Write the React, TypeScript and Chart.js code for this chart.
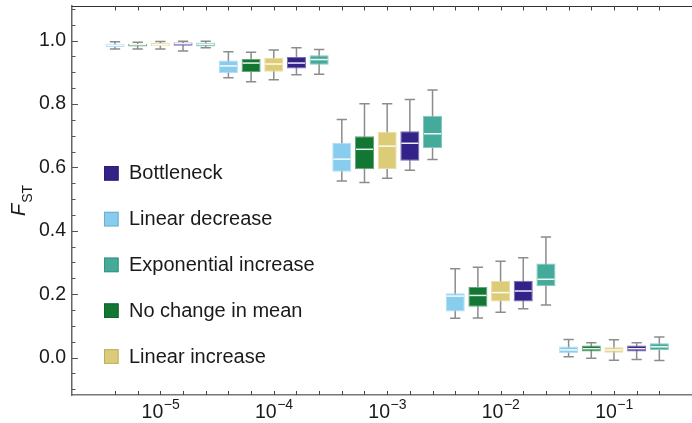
import { useEffect, useRef } from 'react';
import { Chart, registerables } from 'chart.js';

Chart.register(...registerables);

// Migration rates on the x axis, written as 10^k
const rateExponents = [-5, -4, -3, -2, -1];

// Five-number summaries of F_ST per migration rate: [min, q1, median, q3, max]
const linearDecrease = [
  [0.973, 0.98, 0.985, 0.99, 0.996],
  [0.883, 0.897, 0.92, 0.937, 0.965],
  [0.557, 0.586, 0.626, 0.678, 0.751],
  [0.124, 0.145, 0.194, 0.203, 0.28],
  [0.003, 0.014, 0.024, 0.035, 0.057],
];
const noChangeInMean = [
  [0.973, 0.981, 0.987, 0.99, 0.995],
  [0.87, 0.901, 0.929, 0.942, 0.963],
  [0.552, 0.594, 0.657, 0.698, 0.801],
  [0.125, 0.16, 0.196, 0.223, 0.285],
  [-0.002, 0.019, 0.028, 0.038, 0.047],
];
const linearIncrease = [
  [0.973, 0.982, 0.987, 0.992, 0.997],
  [0.876, 0.902, 0.926, 0.946, 0.97],
  [0.566, 0.595, 0.667, 0.712, 0.801],
  [0.143, 0.177, 0.205, 0.242, 0.304],
  [-0.008, 0.015, 0.024, 0.033, 0.056],
];
const bottleneck = [
  [0.967, 0.984, 0.99, 0.994, 0.998],
  [0.892, 0.912, 0.929, 0.948, 0.977],
  [0.591, 0.621, 0.676, 0.714, 0.814],
  [0.154, 0.177, 0.21, 0.242, 0.315],
  [-0.006, 0.019, 0.028, 0.038, 0.047],
];
const exponentialIncrease = [
  [0.977, 0.981, 0.988, 0.993, 0.998],
  [0.894, 0.924, 0.94, 0.954, 0.972],
  [0.625, 0.661, 0.706, 0.763, 0.844],
  [0.166, 0.225, 0.247, 0.297, 0.38],
  [-0.009, 0.024, 0.034, 0.045, 0.065],
];

// Order of the boxes inside each migration-rate group
const seriesNames = ['Linear decrease', 'No change in mean', 'Linear increase', 'Bottleneck', 'Exponential increase'];
const seriesStats = [linearDecrease, noChangeInMean, linearIncrease, bottleneck, exponentialIncrease];
const seriesColors = ['#88CCEE', '#117733', '#DDCC77', '#332288', '#44AA99'];

// Order of the entries in the legend
const legendOrder = ['Bottleneck', 'Linear decrease', 'Exponential increase', 'No change in mean', 'Linear increase'];

const yMinorStep = 0.05;
const yMajorStep = 0.2;

const FONT = '"Liberation Sans", Arial, Helvetica, sans-serif';
const TEXT = '#1a1a1a';

function mixWhite(hex: string, amt: number) {
  const n = parseInt(hex.slice(1), 16);
  const r = (n >> 16) & 255, g = (n >> 8) & 255, b = n & 255;
  const m = (c: number) => Math.round(c + (255 - c) * amt);
  return `rgb(${m(r)},${m(g)},${m(b)})`;
}
function mixBlack(hex: string, amt: number) {
  const n = parseInt(hex.slice(1), 16);
  const r = (n >> 16) & 255, g = (n >> 8) & 255, b = n & 255;
  const m = (c: number) => Math.round(c * (1 - amt));
  return `rgb(${m(r)},${m(g)},${m(b)})`;
}

const groupSize = seriesNames.length;

const boxPlotPlugin = {
  id: 'boxPlot',
  beforeDatasetsDraw(chart: any) {
    const { ctx } = chart;
    const ys = chart.scales.y;
    ctx.save();
    ctx.strokeStyle = '#8c8c8c';
    ctx.lineWidth = 1.5;
    chart.data.datasets.forEach((ds: any, di: number) => {
      const meta = chart.getDatasetMeta(di);
      meta.data.forEach((bar: any, i: number) => {
        const s = ds.stats[i];
        const x = bar.x;
        const yLo = ys.getPixelForValue(s[0]);
        const yHi = ys.getPixelForValue(s[4]);
        const cap = bar.width * 0.27;
        ctx.beginPath();
        ctx.moveTo(x, yHi);
        ctx.lineTo(x, yLo);
        ctx.moveTo(x - cap, yHi);
        ctx.lineTo(x + cap, yHi);
        ctx.moveTo(x - cap, yLo);
        ctx.lineTo(x + cap, yLo);
        ctx.stroke();
      });
    });
    ctx.restore();
  },
  afterDatasetsDraw(chart: any) {
    const { ctx } = chart;
    const ys = chart.scales.y;
    ctx.save();
    ctx.strokeStyle = 'rgba(255,255,255,0.92)';
    ctx.lineWidth = 1.5;
    chart.data.datasets.forEach((ds: any, di: number) => {
      const meta = chart.getDatasetMeta(di);
      meta.data.forEach((bar: any, i: number) => {
        const y = ys.getPixelForValue(ds.stats[i][2]);
        const half = bar.width / 2 - 1;
        ctx.beginPath();
        ctx.moveTo(bar.x - half, y);
        ctx.lineTo(bar.x + half, y);
        ctx.stroke();
      });
    });
    ctx.restore();
  },
  afterDraw(chart: any) {
    const { ctx, chartArea } = chart;
    const xs = chart.scales.x;
    const ys = chart.scales.y;
    const { left, right, top, bottom } = chartArea;
    ctx.save();

    // top frame line
    ctx.strokeStyle = '#333';
    ctx.lineWidth = 1;
    ctx.beginPath();
    ctx.moveTo(left, top + 0.5);
    ctx.lineTo(right, top + 0.5);
    ctx.stroke();

    // box-position ticks along top and bottom edges
    ctx.strokeStyle = '#444';
    ctx.lineWidth = 1;
    const nSlots = rateExponents.length * groupSize;
    for (let k = 0; k < nSlots; k++) {
      const x = Math.round(xs.getPixelForValue(k)) + 0.5;
      ctx.beginPath();
      ctx.moveTo(x, top);
      ctx.lineTo(x, top + 4.5);
      ctx.moveTo(x, bottom);
      ctx.lineTo(x, bottom - 4);
      ctx.stroke();
    }

    // inward ticks on the left axis
    ctx.strokeStyle = '#555';
    const first = Math.ceil(ys.min / yMinorStep);
    const last = Math.floor(ys.max / yMinorStep);
    for (let i = first; i <= last; i++) {
      const v = i * yMinorStep;
      const y = Math.round(ys.getPixelForValue(v)) + 0.5;
      const major = Math.abs(v / yMajorStep - Math.round(v / yMajorStep)) < 1e-6;
      ctx.beginPath();
      ctx.moveTo(left, y);
      ctx.lineTo(left + (major ? 6 : 3.5), y);
      ctx.stroke();
    }

    // x labels: 10 with a superscript exponent at each group centre
    ctx.fillStyle = TEXT;
    ctx.textBaseline = 'alphabetic';
    ctx.textAlign = 'left';
    rateExponents.forEach((e, g) => {
      const cx = xs.getPixelForValue(g * groupSize + (groupSize - 1) / 2);
      const exp = (e < 0 ? '\u2212' : '') + Math.abs(e);
      ctx.font = `19.5px ${FONT}`;
      const wBase = ctx.measureText('10').width;
      ctx.font = `14px ${FONT}`;
      const wExp = ctx.measureText(exp).width;
      const x0 = cx - (wBase + wExp) / 2;
      ctx.font = `19.5px ${FONT}`;
      ctx.fillText('10', x0, 418);
      ctx.font = `14px ${FONT}`;
      ctx.fillText(exp, x0 + wBase + 0.5, 409);
    });

    // legend
    ctx.textBaseline = 'middle';
    legendOrder.forEach((name, i) => {
      const color = seriesColors[seriesNames.indexOf(name)];
      const cy = 173.3 + i * 45.8;
      ctx.fillStyle = color;
      ctx.fillRect(104, cy - 7.3, 14.6, 14.6);
      ctx.strokeStyle = mixBlack(color, 0.15);
      ctx.lineWidth = 1;
      ctx.strokeRect(104.5, cy - 6.8, 13.6, 13.6);
      ctx.fillStyle = TEXT;
      ctx.font = `20px ${FONT}`;
      ctx.fillText(name, 129, cy + 0.5);
    });

    // y axis title: italic F with subscript ST
    const midY = (top + bottom) / 2;
    ctx.translate(22, midY);
    ctx.rotate(-Math.PI / 2);
    ctx.textBaseline = 'alphabetic';
    ctx.font = `italic 20px ${FONT}`;
    const wF = ctx.measureText('F').width;
    ctx.font = `14px ${FONT}`;
    const wS = ctx.measureText('ST').width;
    const sx = -(wF + 1 + wS) / 2;
    ctx.fillStyle = TEXT;
    ctx.font = `italic 20px ${FONT}`;
    ctx.fillText('F', sx, 3);
    ctx.font = `14px ${FONT}`;
    ctx.fillText('ST', sx + wF + 1, 9.5);

    ctx.restore();
  },
};

export default function App() {
  const canvasRef = useRef<HTMLCanvasElement>(null);

  useEffect(() => {
    const canvas = canvasRef.current;
    if (!canvas) return;
    const datasets = seriesNames.map((name, si) => ({
      label: name,
      stats: seriesStats[si],
      data: seriesStats[si].map((s, g) => ({ x: g * groupSize + si, y: [s[1], s[3]] })),
      backgroundColor: seriesColors[si],
      borderColor: mixWhite(seriesColors[si], 0.35),
      borderWidth: 1,
      borderSkipped: false,
      grouped: false,
      barPercentage: 0.84,
      categoryPercentage: 1,
    }));

    const chart = new Chart(canvas, {
      type: 'bar',
      data: { datasets } as any,
      plugins: [boxPlotPlugin],
      options: {
        animation: false,
        responsive: false,
        devicePixelRatio: 1,
        layout: { padding: { top: 6, right: 0, bottom: 0, left: 0 } },
        plugins: { legend: { display: false }, tooltip: { enabled: false } },
        scales: {
          x: {
            type: 'linear',
            min: -1.896,
            max: 25.44,
            offset: false,
            ticks: { display: false, stepSize: 5, includeBounds: false },
            grid: { display: false },
            border: { display: true, color: '#777', width: 1.5 },
            afterFit: (s: any) => {
              s.height = 28;
              s.paddingLeft = 0;
              s.paddingRight = 0;
            },
          },
          y: {
            type: 'linear',
            min: -0.118,
            max: 1.109,
            ticks: {
              stepSize: yMajorStep,
              includeBounds: false,
              padding: 6,
              color: TEXT,
              font: { family: FONT, size: 19.5 },
              callback: (v: any) => Number(v).toFixed(1),
            },
            grid: { display: false, drawTicks: false },
            border: { display: true, color: '#666', width: 1.5 },
            afterFit: (s: any) => {
              s.width = 72;
              s.paddingTop = 0;
              s.paddingBottom = 0;
            },
          },
        },
      } as any,
    });
    return () => chart.destroy();
  }, []);

  return (
    <div style={{ position: 'absolute', left: 0, top: 0, width: 692, height: 423, background: '#fff' }}>
      <canvas ref={canvasRef} width={692} height={423} style={{ display: 'block' }} />
    </div>
  );
}
